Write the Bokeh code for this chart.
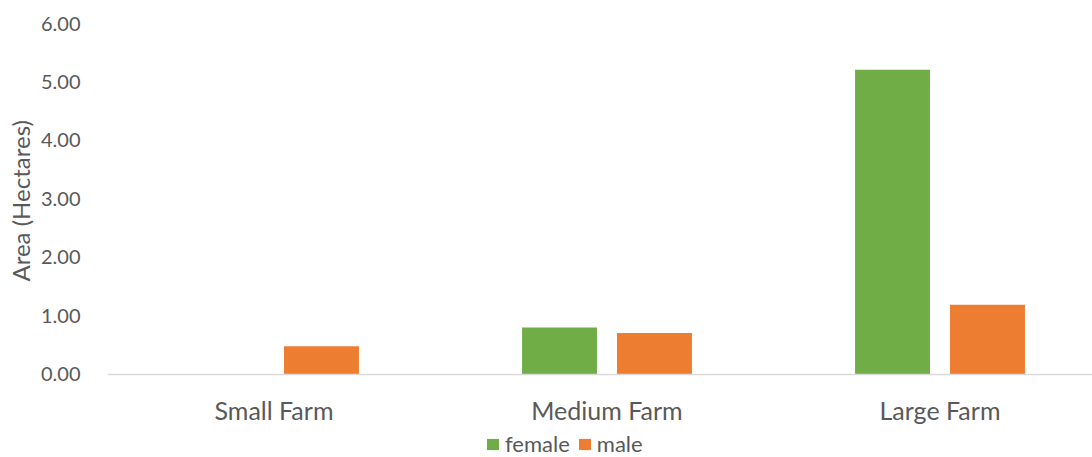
from bokeh.plotting import figure
from bokeh.models import Range1d, FixedTicker, Legend, LegendItem, NumeralTickFormatter, Title
from bokeh.embed import file_html
from bokeh.resources import INLINE

categories = ["Small Farm", "Medium Farm", "Large Farm"]
female = [0.0, 0.80, 5.21]
male = [0.48, 0.71, 1.19]
series_names = ["female", "male"]
colors = ["#70ad47", "#ed7d31"]
y_title = "Area (Hectares)"

FONT = "Lato"
TXT = "#595959"

PX_PER_UNIT = (374 - 23.5) / 6.0
y_bottom = -(457 - 374) / PX_PER_UNIT

p = figure(width=1092, height=457, output_backend="svg", toolbar_location=None,
           x_range=Range1d(0, 985 / 333), y_range=Range1d(y_bottom, 6),
           min_border_left=107, min_border_right=0, min_border_top=23, min_border_bottom=0)
p.outline_line_color = None
p.xgrid.visible = False
p.ygrid.visible = False

centers = [i + 0.5 for i in range(len(categories))]
off = 0.1426
w = 0.225
r1 = p.vbar(x=[c - off for c in centers], top=female, width=w, color=colors[0], line_color=None)
r2 = p.vbar(x=[c + off for c in centers], top=male, width=w, color=colors[1], line_color=None)

# x axis drawn at y = 0 inside the frame
p.xaxis.fixed_location = 0
p.xaxis.ticker = FixedTicker(ticks=centers)
p.xaxis.major_label_overrides = {c: n for c, n in zip(centers, categories)}
p.xaxis.major_tick_line_color = None
p.xaxis.minor_tick_line_color = None
p.xaxis.axis_line_color = "#d9d9d9"
p.xaxis.axis_line_width = 1.5
p.xaxis.major_label_standoff = 15
p.xaxis.major_label_text_font = FONT
p.xaxis.major_label_text_font_size = "25px"
p.xaxis.major_label_text_color = TXT

# y axis
p.yaxis.ticker = FixedTicker(ticks=[0, 1, 2, 3, 4, 5, 6])
p.yaxis.formatter = NumeralTickFormatter(format="0.00")
p.yaxis.axis_line_color = None
p.yaxis.major_tick_line_color = None
p.yaxis.minor_tick_line_color = None
p.yaxis.major_label_standoff = 21
p.yaxis.major_label_text_font = FONT
p.yaxis.major_label_text_font_size = "20px"
p.yaxis.major_label_text_color = TXT

ytitle = Title(text=y_title, align="left", offset=176, text_font=FONT,
               text_font_size="24px", text_font_style="normal", text_color=TXT,
               standoff=6)
p.add_layout(ytitle, "left")

legend = Legend(items=[LegendItem(label=series_names[0], renderers=[r1]),
                       LegendItem(label=series_names[1], renderers=[r2])],
                location=(378, 0), orientation="horizontal")
legend.border_line_color = None
legend.background_fill_alpha = 0
legend.padding = 0
legend.margin = 0
legend.spacing = 7
legend.glyph_width = 15
legend.glyph_height = 14
legend.label_standoff = 5
legend.label_text_font = FONT
legend.label_text_font_size = "22px"
legend.label_text_color = TXT
legend.label_height = 22
p.add_layout(legend, "center")

open("out.html", "w").write(file_html(p, INLINE))
